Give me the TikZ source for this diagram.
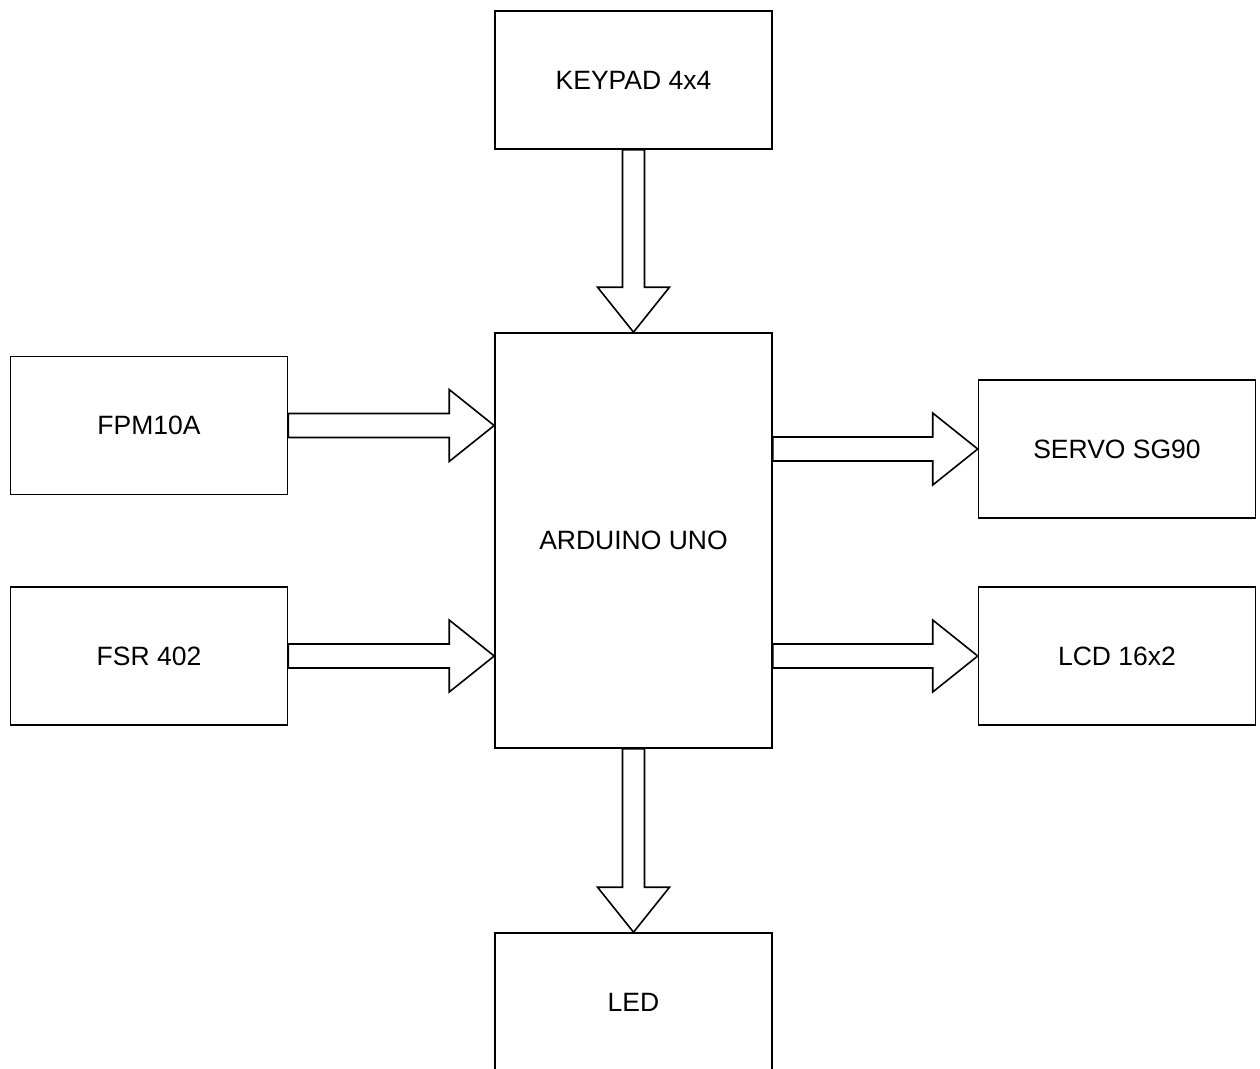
\documentclass[tikz,border=0pt]{standalone}
\usepackage{fontspec}
\setmainfont{Liberation Sans}
\usetikzlibrary{calc}
\tikzset{
  blk/.style={draw=black, line width=1.6pt, fill=white, minimum width=277pt, minimum height=138pt, inner sep=0pt, font=\fontsize{26.5}{30}\selectfont},
  arr/.style={draw=black, line width=1.6pt, fill=white, line join=miter},
}
\newcommand\flexR[2]{\draw[arr] ($(#1)+(0,-12)$) -- ($(#2)+(-45,-12)$) -- ($(#2)+(-45,-36)$) -- (#2) -- ($(#2)+(-45,36)$) -- ($(#2)+(-45,12)$) -- ($(#1)+(0,12)$) -- cycle;}
\newcommand\flexD[2]{\draw[arr] ($(#1)+(-11,0)$) -- ($(#2)+(-11,-45)$) -- ($(#2)+(-36,-45)$) -- (#2) -- ($(#2)+(36,-45)$) -- ($(#2)+(11,-45)$) -- ($(#1)+(11,0)$) -- cycle;}
\begin{document}
\begin{tikzpicture}[x=1pt,y=-1pt]
\useasboundingbox (0,0) rectangle (1260,1068);
\node[blk] (key) at (633.5,80) {KEYPAD 4x4};
\node[blk, minimum height=415pt] (ard) at (633.5,540.5) {ARDUINO UNO};
\node[blk] (fpm) at (149,425.5) {FPM10A};
\node[blk] (fsr) at (149,656) {FSR 402};
\node[blk] (servo) at (1117,449) {SERVO SG90};
\node[blk] (lcd) at (1117,656) {LCD 16x2};
\node[blk] (led) at (633.5,1002) {LED};
\coordinate (t1) at (ard.west |- fpm.east);
\coordinate (t2) at (ard.west |- fsr.east);
\coordinate (s3) at (ard.east |- servo.west);
\coordinate (s4) at (ard.east |- lcd.west);
\flexD{key.south}{ard.north}
\flexR{fpm.east}{t1}
\flexR{fsr.east}{t2}
\flexR{s3}{servo.west}
\flexR{s4}{lcd.west}
\flexD{ard.south}{led.north}
\end{tikzpicture}
\end{document}
